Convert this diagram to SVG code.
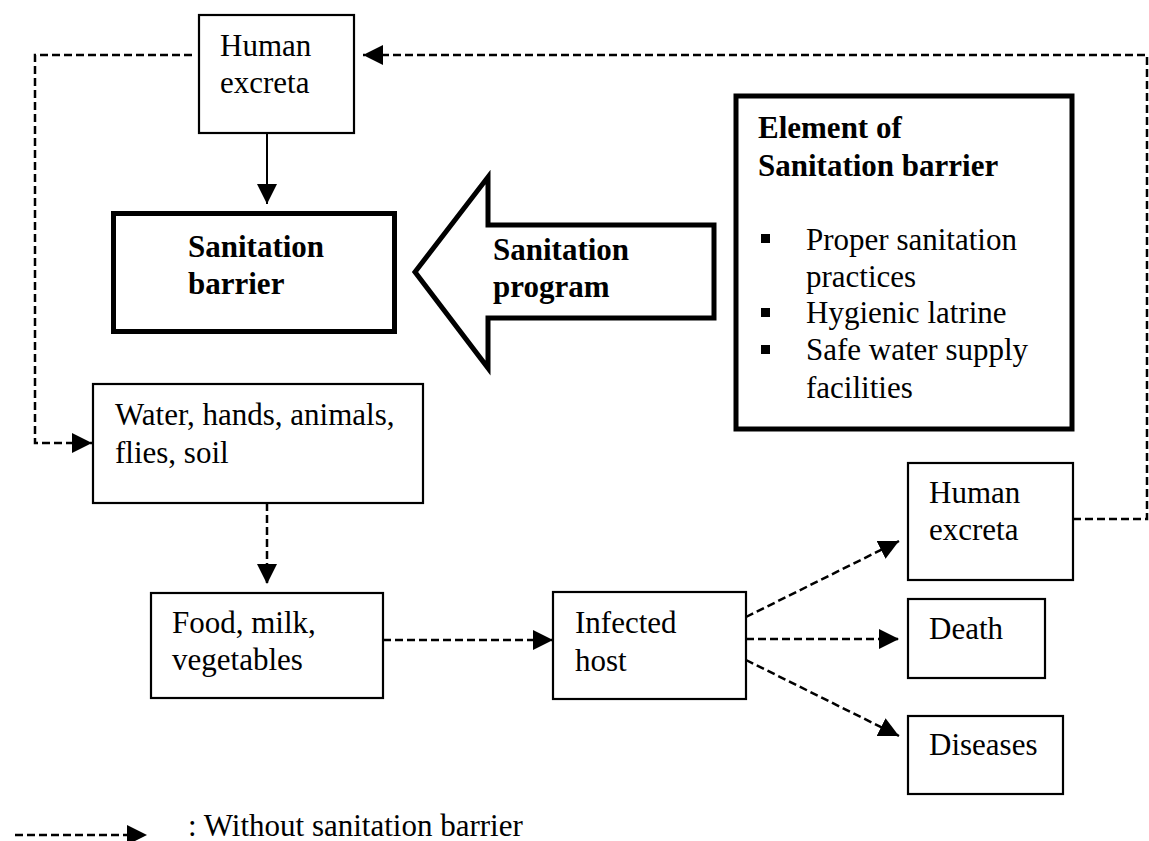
<svg xmlns="http://www.w3.org/2000/svg" width="1149" height="841" viewBox="0 0 1149 841">
<style>
.box{fill:#fff;stroke:#000;stroke-width:2.2}
.thick{fill:#fff;stroke:#000;stroke-width:5}
.t{font-family:"Liberation Serif","Times New Roman",serif;font-size:31px;fill:#000}
.b{font-weight:bold}
.solid{fill:none;stroke:#000;stroke-width:2}
.dash{fill:none;stroke:#000;stroke-width:2.5;stroke-dasharray:8 4}
</style>
<defs>
<marker id="ah" markerUnits="userSpaceOnUse" markerWidth="20" markerHeight="20" refX="20" refY="10" orient="auto">
<path d="M0,0 L20,10 L0,20 z" fill="#000"/>
</marker>
</defs>
<rect width="1149" height="841" fill="#fff"/>

<g id="connectors">
<line class="solid" x1="267" y1="133" x2="267" y2="204" marker-end="url(#ah)"/>
<polyline class="dash" points="192,55 35,55 35,443 92,443" marker-end="url(#ah)"/>
<polyline class="dash" points="1073,519 1147,519 1147,55 363,55" marker-end="url(#ah)"/>
<line class="dash" x1="267" y1="503" x2="267" y2="584" marker-end="url(#ah)"/>
<line class="dash" x1="383" y1="640" x2="553" y2="640" marker-end="url(#ah)"/>
<line class="dash" x1="746" y1="617" x2="899" y2="541" marker-end="url(#ah)"/>
<line class="dash" x1="746" y1="639" x2="899" y2="639" marker-end="url(#ah)"/>
<line class="dash" x1="746" y1="660" x2="899" y2="736" marker-end="url(#ah)"/>
</g>

<g id="human-excreta-top">
<rect class="box" x="199" y="15" width="155" height="118"/>
<text class="t" x="220" y="56">Human</text>
<text class="t" x="220" y="93">excreta</text>
</g>

<g id="sanitation-barrier">
<rect class="thick" x="113.5" y="213.5" width="281" height="118"/>
<text class="t b" x="188" y="257">Sanitation</text>
<text class="t b" x="188" y="294">barrier</text>
</g>

<g id="sanitation-program">
<polygon class="thick" points="415,272 488,177 488,225 714,225 714,318 488,318 488,368"/>
<text class="t b" x="493" y="260">Sanitation</text>
<text class="t b" x="493" y="297">program</text>
</g>

<g id="element-box">
<rect class="thick" x="736" y="96" width="336" height="333"/>
<text class="t b" x="758" y="138">Element of</text>
<text class="t b" x="758" y="176">Sanitation barrier</text>
<rect x="761" y="234" width="9" height="9" fill="#000"/>
<rect x="761" y="308" width="9" height="9" fill="#000"/>
<rect x="761" y="345" width="9" height="9" fill="#000"/>
<text class="t" x="806" y="250">Proper sanitation</text>
<text class="t" x="806" y="287">practices</text>
<text class="t" x="806" y="323">Hygienic latrine</text>
<text class="t" x="806" y="360">Safe water supply</text>
<text class="t" x="806" y="398">facilities</text>
</g>

<g id="water-hands">
<rect class="box" x="93" y="384" width="330" height="119"/>
<text class="t" x="115" y="425">Water, hands, animals,</text>
<text class="t" x="115" y="463">flies, soil</text>
</g>

<g id="food">
<rect class="box" x="151" y="593" width="232" height="105"/>
<text class="t" x="172" y="633">Food, milk,</text>
<text class="t" x="172" y="670">vegetables</text>
</g>

<g id="infected-host">
<rect class="box" x="553" y="592" width="193" height="107"/>
<text class="t" x="575" y="633">Infected</text>
<text class="t" x="575" y="671">host</text>
</g>

<g id="human-excreta-right">
<rect class="box" x="908" y="463" width="165" height="117"/>
<text class="t" x="929" y="503">Human</text>
<text class="t" x="929" y="540">excreta</text>
</g>

<g id="death">
<rect class="box" x="908" y="599" width="137" height="79"/>
<text class="t" x="929" y="639">Death</text>
</g>

<g id="diseases">
<rect class="box" x="908" y="716" width="155" height="78"/>
<text class="t" x="929" y="755">Diseases</text>
</g>

<g id="legend">
<line class="dash" x1="15" y1="835" x2="147" y2="835" marker-end="url(#ah)"/>
<text class="t" x="188" y="836">: Without sanitation barrier</text>
</g>
</svg>
